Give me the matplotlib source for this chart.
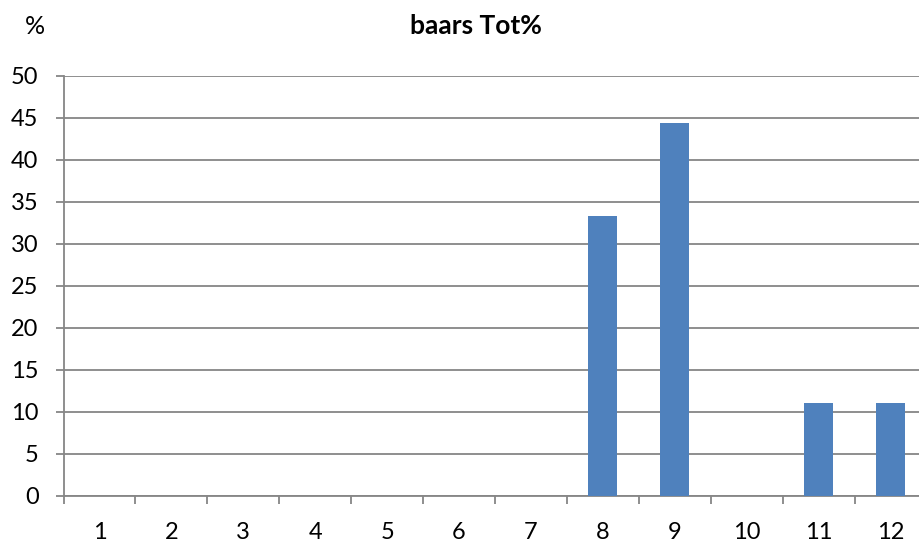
import matplotlib
matplotlib.use("Agg")
import matplotlib.pyplot as plt

categories = [1, 2, 3, 4, 5, 6, 7, 8, 9, 10, 11, 12]
tot_pct = [0, 0, 0, 0, 0, 0, 0, 33.33, 44.44, 0, 11.11, 11.11]
y_ticks = [0, 5, 10, 15, 20, 25, 30, 35, 40, 45, 50]

BAR = "#4F81BD"
GRID = "#868686"
plt.rcParams["font.family"] = ["Lato", "DejaVu Sans"]

W, H = 919, 542
fig = plt.figure(figsize=(W / 100, H / 100), dpi=100)
# plot area runs a little past the right edge of the figure
left, right, top, bottom = 63.5, 926.5, 76, 496
ax = fig.add_axes([left / W, 1 - bottom / H, (right - left) / W, (bottom - top) / H])

ax.bar(categories, tot_pct, width=0.4, color=BAR, zorder=3)
ax.set_xlim(0.5, 12.5)
ax.set_ylim(0, 50)
ax.set_yticks(y_ticks)
ax.yaxis.grid(True, color=GRID, lw=1.3)
ax.set_axisbelow(True)

ax.set_xticks(categories)
ax.set_xticklabels([str(c) for c in categories])
ax.set_xticks([c + 0.5 for c in categories[:-1]] + [0.5], minor=True)
ax.tick_params(axis="x", which="major", length=0, pad=19, labelsize=17)
ax.tick_params(axis="x", which="minor", length=6, width=1.3, color=GRID, direction="out")
ax.tick_params(axis="y", length=6, width=1.3, color=GRID, pad=12, labelsize=17)

for side in ("top", "right"):
    ax.spines[side].set_visible(False)
for side in ("left", "bottom"):
    ax.spines[side].set_color(GRID)
    ax.spines[side].set_linewidth(1.3)

fig.text(476 / W, 1 - 26 / H, "baars Tot%", ha="center", va="center",
         fontsize=19, fontweight="bold")
fig.text(35 / W, 1 - 26 / H, "%", ha="center", va="center", fontsize=18)

fig.savefig("out.png", dpi=100)
